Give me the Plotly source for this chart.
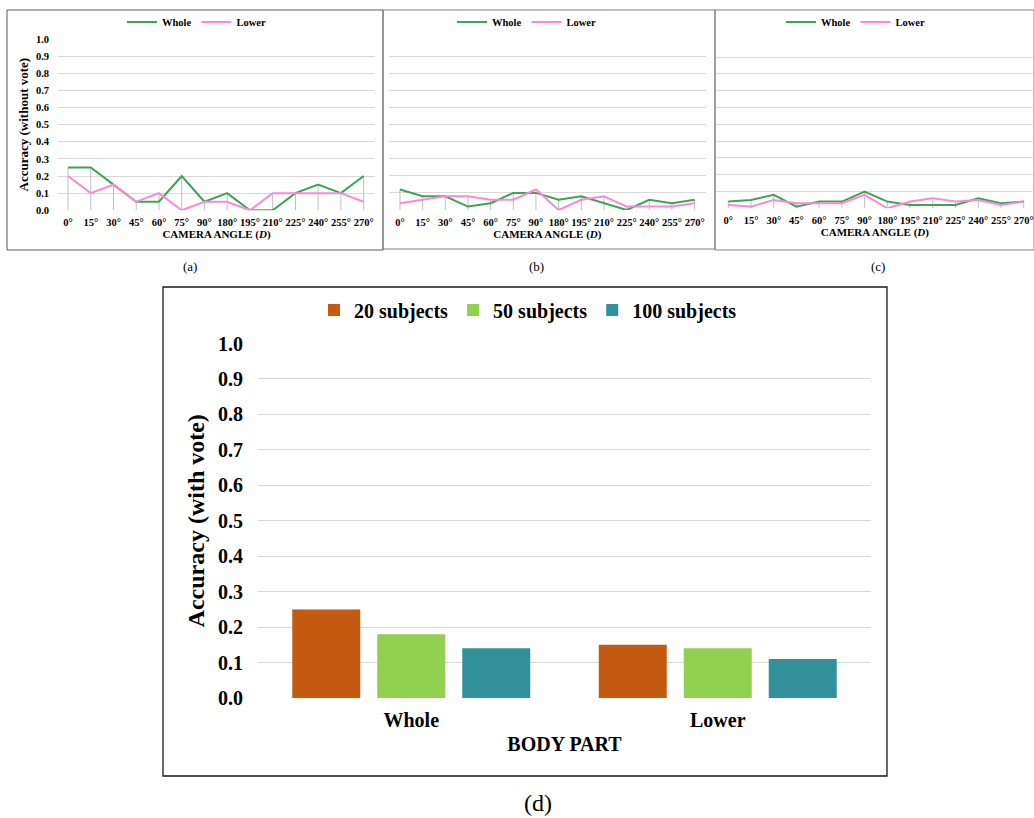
import plotly.graph_objects as go

# ---------------- data ----------------
angles = ["0°", "15°", "30°", "45°", "60°", "75°", "90°", "180°",
          "195°", "210°", "225°", "240°", "255°", "270°"]

a_whole = [0.25, 0.25, 0.15, 0.05, 0.05, 0.20, 0.05, 0.10, 0.00, 0.00, 0.10, 0.15, 0.10, 0.20]
a_lower = [0.20, 0.10, 0.15, 0.05, 0.10, 0.00, 0.05, 0.05, 0.00, 0.10, 0.10, 0.10, 0.10, 0.05]

b_whole = [0.12, 0.08, 0.08, 0.02, 0.04, 0.10, 0.10, 0.06, 0.08, 0.04, 0.00, 0.06, 0.04, 0.06]
b_lower = [0.04, 0.06, 0.08, 0.08, 0.06, 0.06, 0.12, 0.00, 0.06, 0.08, 0.02, 0.02, 0.02, 0.04]

c_whole = [0.04, 0.05, 0.08, 0.01, 0.04, 0.04, 0.10, 0.04, 0.02, 0.02, 0.02, 0.06, 0.03, 0.04]
c_lower = [0.02, 0.01, 0.05, 0.03, 0.03, 0.03, 0.08, 0.00, 0.04, 0.06, 0.04, 0.05, 0.02, 0.04]

parts = ["Whole", "Lower"]
vote_20 = [0.25, 0.15]
vote_50 = [0.18, 0.14]
vote_100 = [0.14, 0.11]

y_ticks = [0.0, 0.1, 0.2, 0.3, 0.4, 0.5, 0.6, 0.7, 0.8, 0.9, 1.0]
# --------------------------------------

FONT = "Liberation Serif"
GREEN = "#3AA655"
PINK = "#FF88D6"
GRID = "#D9D9D9"
DROP = "#BFBFBF"
C20 = "#C55A11"
C50 = "#92D050"
C100 = "#31909A"

W, H = 1034, 818


def px(x):
    return x / W


def py(y):
    return 1 - y / H


fig = go.Figure()

panels = [
    ("x", "y", "legend", a_whole, a_lower),
    ("x2", "y2", "legend2", b_whole, b_lower),
    ("x3", "y3", "legend3", c_whole, c_lower),
]

for xa, ya, lg, whole, lower in panels:
    # drop lines from the axis up to the higher of the two series
    dx, dy = [], []
    for cat, w_, l_ in zip(angles, whole, lower):
        dx += [cat, cat, None]
        dy += [0, max(w_, l_), None]
    fig.add_trace(go.Scatter(x=dx, y=dy, mode="lines", xaxis=xa, yaxis=ya,
                             line=dict(color=DROP, width=1), showlegend=False,
                             hoverinfo="skip"))
    fig.add_trace(go.Scatter(x=angles, y=whole, mode="lines", name="Whole",
                             xaxis=xa, yaxis=ya, legend=lg,
                             line=dict(color=GREEN, width=2)))
    fig.add_trace(go.Scatter(x=angles, y=lower, mode="lines", name="Lower",
                             xaxis=xa, yaxis=ya, legend=lg,
                             line=dict(color=PINK, width=2)))

for name, vals, col in [("20 subjects", vote_20, C20),
                        ("50 subjects", vote_50, C50),
                        ("100 subjects", vote_100, C100)]:
    fig.add_trace(go.Bar(x=parts, y=vals, name=name, xaxis="x4", yaxis="y4",
                         legend="legend4", marker=dict(color=col, line=dict(width=0))))

small_tick = dict(family=FONT, size=10.5, color="#000000", weight="bold")


def line_xaxis(domain, rng, anchor):
    return dict(domain=domain, range=rng, type="category", anchor=anchor,
                showgrid=False, showline=False, zeroline=False, ticks="",
                tickfont=small_tick, ticklabelstandoff=4, automargin=False,
                title=dict(text="<b>CAMERA ANGLE (<i>D</i>)</b>",
                           font=dict(family=FONT, size=11, color="#000"),
                           standoff=3),
                fixedrange=True)


def line_yaxis(domain, showlabels, anchor):
    return dict(domain=domain, range=[0, 1.0], tickvals=y_ticks, anchor=anchor,
                tickformat=".1f", showgrid=True, gridcolor=GRID, gridwidth=1,
                zeroline=False, showline=False, ticks="", automargin=False,
                showticklabels=showlabels, tickfont=small_tick,
                ticklabelstandoff=8, fixedrange=True)


fig.update_layout(
    width=W, height=H,
    margin=dict(l=0, r=0, t=0, b=0, pad=0, autoexpand=False),
    paper_bgcolor="white", plot_bgcolor="white",
    font=dict(family=FONT, color="#000"),
    barmode="group", bargap=0.168, bargroupgap=0.2,
    xaxis=line_xaxis([px(58), px(375)], [-0.44, 13.5], "y"),
    xaxis2=line_xaxis([px(389), px(705.7)], [-0.485, 13.49], "y2"),
    xaxis3=line_xaxis([px(716), px(1033.7)], [-0.54, 13.44], "y3"),
    yaxis=line_yaxis([py(210.3), py(39)], True, "x"),
    yaxis2=line_yaxis([py(210), py(39)], False, "x2"),
    yaxis3=line_yaxis([py(208.3), py(40.3)], False, "x3"),
    xaxis4=dict(domain=[px(258), px(871)], range=[-0.5, 1.5], type="category",
                anchor="y4", automargin=False,
                showgrid=False, showline=False, zeroline=False, ticks="",
                tickfont=dict(family=FONT, size=20, color="#000", weight="bold"),
                ticklabelstandoff=8,
                title=dict(text="<b>BODY PART</b>",
                           font=dict(family=FONT, size=20, color="#000"),
                           standoff=6),
                fixedrange=True),
    yaxis4=dict(domain=[py(698), py(343.5)], range=[0, 1.0], tickvals=y_ticks,
                anchor="x4", automargin=False,
                tickformat=".1f", showgrid=True, gridcolor=GRID, gridwidth=1,
                zeroline=False, showline=False, ticks="",
                tickfont=dict(family=FONT, size=20, color="#000", weight="bold"),
                ticklabelstandoff=14,
                title=dict(text="<b>Accuracy (with vote)</b>",
                           font=dict(family=FONT, size=24, color="#000"),
                           standoff=6),
                fixedrange=True),
    showlegend=True,
)

fig.layout.yaxis.title = dict(text="<b>Accuracy (without vote)</b>",
                              font=dict(family=FONT, size=13, color="#000"),
                              standoff=4)

leg_font = dict(family=FONT, size=10.5, color="#000", weight="bold")
for key, cx in [("legend", 197), ("legend2", 527), ("legend3", 856)]:
    fig.layout[key] = dict(orientation="h", x=px(cx), y=py(22), xanchor="center",
                           yanchor="middle", font=leg_font, itemwidth=30,
                           bgcolor="rgba(0,0,0,0)", tracegroupgap=0,
                           itemclick=False, itemdoubleclick=False)

fig.layout["legend4"] = dict(orientation="h", x=px(528), y=py(310), xanchor="center",
                             yanchor="middle",
                             font=dict(family=FONT, size=20, color="#000", weight="bold"),
                             itemwidth=30, bgcolor="rgba(0,0,0,0)",
                             itemclick=False, itemdoubleclick=False)

# panel frames
frames = [
    (7, 10, 383, 250, "#595959", 1),
    (383, 10, 715, 249, "#7F7F7F", 1),
    (715, 10, 1034, 250, "#7F7F7F", 1),
    (163, 287, 887, 776, "#1A1A1A", 1.3),
]
for x0, y0, x1, y1, col, wd in frames:
    fig.add_shape(type="rect", xref="paper", yref="paper",
                  x0=px(x0), x1=px(x1), y0=py(y0), y1=py(y1),
                  line=dict(color=col, width=wd), fillcolor="rgba(0,0,0,0)",
                  layer="below")

# captions
for text, cx, cy, sz in [("(a)", 190, 267, 13), ("(b)", 536, 267, 13),
                         ("(c)", 878, 267, 13), ("(d)", 538, 803, 24)]:
    fig.add_annotation(text=text, x=px(cx), y=py(cy), xref="paper", yref="paper",
                       showarrow=False, xanchor="center", yanchor="middle",
                       font=dict(family=FONT, size=sz, color="#000"))

fig.write_html(
    "out.html",
    config={"displayModeBar": False},
    post_script=(
        "document.documentElement.style.margin='0';"
        "document.documentElement.style.overflow='hidden';"
        "document.body.style.margin='0';"
        "document.body.style.overflow='hidden';"
        "var gd=document.getElementById('{plot_id}');"
        "gd.style.position='fixed';gd.style.top='0px';gd.style.left='0px';"
    ),
)
